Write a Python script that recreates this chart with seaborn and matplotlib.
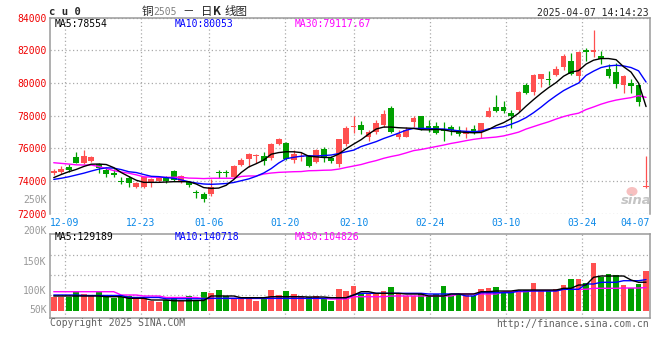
import numpy as np
import pandas as pd
import matplotlib
matplotlib.use("Agg")
import matplotlib.pyplot as plt
import seaborn as sns
from matplotlib.patches import Ellipse
from matplotlib.transforms import ScaledTranslation

# ─── Data (cu2505) ───────────────────────────────────────────────────────────
opens = [
    74470, 74550, 74870, 75480, 75120, 75240, 75020, 74670, 74470, 73980,
    74200, 73650, 73650, 73960, 74000, 74200, 74590, 73920, 73920, 73330,
    73190, 73210, 74570, 74530, 74230, 74980, 75340, 75510, 75530, 75390,
    76260, 76300, 75280, 75460, 75550, 75180, 75940, 75420, 75040, 76240,
    77290, 77420, 76710, 77010, 77420, 78440, 76710, 76710, 77620, 77970,
    77360, 77360, 77160, 77320, 77110, 76870, 77160, 77010, 77930, 78500,
    78510, 78130, 78340, 79860, 79450, 80270, 80270, 80470, 80980, 81330,
    80410, 82000, 81900, 81630, 80880, 80670, 79860, 79970, 79860, 73610]
highs = [
    74710, 74920, 75020, 75790, 75890, 75550, 75080, 74780, 74710, 74260,
    74310, 73960, 74260, 74170, 74260, 74310, 74670, 74370, 73960, 73450,
    73350, 74100, 74670, 74670, 74980, 75390, 75730, 75650, 75790, 76340,
    76660, 76400, 75890, 75790, 75590, 75940, 76060, 75530, 76600, 77360,
    77970, 77660, 77110, 77730, 78340, 78580, 77110, 77320, 77970, 77980,
    77730, 77600, 77600, 77420, 77360, 77320, 77420, 77560, 78540, 79250,
    78890, 78340, 79510, 80000, 80530, 80540, 80720, 81020, 81740, 81800,
    81940, 82140, 83260, 81940, 81130, 81220, 80470, 80210, 79910, 75530]
lows = [
    74350, 74450, 74570, 75080, 75040, 75180, 74510, 74260, 74260, 73820,
    73620, 73550, 73550, 73650, 73920, 73900, 74020, 73860, 73620, 72980,
    72740, 73080, 74170, 74230, 74170, 74920, 74870, 75120, 74980, 75280,
    76200, 75280, 75080, 75240, 74840, 75080, 75180, 75120, 74840, 76140,
    76910, 76870, 76460, 76870, 77320, 76950, 76550, 76670, 77320, 77110,
    77010, 76870, 76460, 76810, 76750, 76610, 76870, 76610, 77890, 78230,
    78130, 77220, 78230, 79310, 79250, 79760, 79900, 80410, 80780, 80470,
    80110, 81350, 81590, 81130, 80330, 79700, 79390, 79390, 78600, 73600]
closes = [
    74590, 74730, 74670, 75120, 75530, 75470, 74780, 74410, 74350, 73920,
    73860, 73860, 74230, 74100, 74200, 74000, 74060, 74310, 73740, 73250,
    72900, 73650, 74470, 74490, 74920, 75280, 75650, 75550, 75240, 76260,
    76600, 75340, 75650, 75500, 74920, 75890, 75390, 75220, 76560, 77260,
    77330, 77110, 77010, 77560, 78090, 77010, 76870, 77110, 77870, 77160,
    77220, 76910, 77070, 77110, 76870, 77070, 76950, 77520, 78290, 78290,
    78290, 77970, 79450, 79390, 80470, 80530, 80170, 80880, 81630, 80530,
    81890, 81860, 82000, 81490, 80410, 79910, 80410, 79820, 78840, 73620]

ma5 = [
    74210, 74400, 74570, 74710, 74890, 75030, 75040, 75010, 74820, 74520,
    74280, 74050, 73920, 73920, 73920, 73940, 73960, 73960, 73960, 73820,
    73600, 73550, 73570, 73740, 74090, 74520, 74860, 75060, 75280, 75640,
    75740, 75790, 75790, 75740, 75520, 75480, 75440, 75440, 75650, 75980,
    76260, 76530, 76870, 77180, 77300, 77300, 77260, 77240, 77220, 77140,
    77130, 77160, 77130, 77040, 77010, 76970, 76950, 76970, 77150, 77390,
    77570, 77820, 78150, 78580, 78980, 79360, 79710, 80020, 80410, 80660,
    80750, 81150, 81390, 81490, 81490, 81420, 80990, 80660, 79990, 78554]
ma10 = [
    74100, 74170, 74260, 74370, 74480, 74610, 74730, 74810, 74790, 74700,
    74570, 74520, 74400, 74290, 74270, 74210, 74170, 74070, 73960, 73880,
    73820, 73800, 73820, 73850, 73910, 74020, 74130, 74290, 74490, 74760,
    75100, 75370, 75450, 75520, 75550, 75530, 75560, 75590, 75680, 75790,
    75890, 76110, 76260, 76410, 76600, 76760, 76930, 77110, 77220, 77220,
    77210, 77190, 77180, 77130, 77070, 77040, 77020, 77050, 77190, 77250,
    77320, 77470, 77650, 77880, 78180, 78520, 78890, 79220, 79530, 79770,
    79990, 80460, 80720, 80940, 81040, 81080, 81040, 80940, 80740, 80053]
ma30 = [
    75120, 75080, 75040, 74990, 74980, 74980, 74890, 74760, 74640, 74550,
    74480, 74380, 74260, 74240, 74230, 74230, 74230, 74230, 74180, 74170,
    74150, 74170, 74170, 74170, 74170, 74280, 74310, 74310, 74430, 74490,
    74530, 74550, 74570, 74580, 74630, 74640, 74660, 74670, 74730, 74830,
    74920, 75010, 75140, 75250, 75390, 75500, 75590, 75720, 75860, 75930,
    76020, 76110, 76200, 76300, 76380, 76470, 76550, 76610, 76650, 76690,
    76760, 76870, 76990, 77180, 77330, 77480, 77620, 77790, 77940, 78060,
    78150, 78370, 78530, 78700, 78840, 78950, 79030, 79100, 79220, 79117.67]

volume = [
    63400, 63400, 63400, 89200, 75700, 66600, 89200, 71100, 58900, 63400,
    66600, 60700, 60700, 43900, 40800, 48500, 58900, 43900, 66600, 48500,
    86100, 81500, 93800, 66600, 56200, 63400, 60700, 43900, 53000, 93800,
    71100, 89200, 75700, 60700, 60700, 66600, 56200, 45000, 98300, 89200,
    111900, 78800, 75700, 81500, 89200, 107400, 75700, 66600, 66600, 75700,
    66600, 75700, 111900, 71100, 71100, 71100, 66600, 98300, 104200, 107400,
    81500, 89200, 93800, 93800, 126800, 93800, 89200, 98300, 116400, 143600,
    143600, 126800, 217400, 154000, 166300, 161700, 116400, 104200, 121000, 181200]
vol_ma5 = [
    66600, 66600, 66600, 66600, 66600, 66600, 66600, 63400, 63400, 63400,
    56200, 56200, 56200, 48500, 48500, 48500, 45000, 45000, 45000, 46200,
    46200, 66600, 66600, 66600, 66600, 58900, 58900, 58900, 58900, 63400,
    63400, 63400, 63400, 63400, 62100, 62100, 62100, 58900, 58900, 58900,
    71100, 86100, 86100, 78800, 78800, 78800, 78800, 75700, 75700, 75700,
    66600, 66600, 66600, 75700, 75700, 75700, 75700, 86100, 86100, 89200,
    89200, 89200, 93800, 93800, 93800, 93800, 93800, 93800, 101500, 101500,
    116400, 116400, 151300, 157200, 157200, 157200, 157200, 139100, 128700, 129189]
vol_ma10 = [
    71100, 71100, 71100, 71100, 68900, 68900, 68900, 68900, 68900, 68900,
    60000, 60000, 60000, 60000, 60000, 54000, 54000, 54000, 54000, 54000,
    54000, 56200, 56200, 56200, 56200, 56200, 56200, 56200, 56200, 56200,
    56200, 56200, 56200, 56200, 56200, 56200, 56200, 58900, 58900, 58900,
    71100, 78800, 78800, 78800, 78800, 78800, 78800, 78800, 78800, 78800,
    75700, 75700, 75700, 75700, 75700, 66600, 66600, 81500, 81500, 81500,
    81500, 81500, 89200, 89200, 89200, 89200, 89200, 89200, 96900, 96900,
    96900, 121000, 121000, 128700, 128700, 128700, 135900, 135900, 135900, 140718]
vol_ma30 = [
    86100, 86100, 86100, 86100, 86100, 86100, 86100, 86100, 86100, 71100,
    71100, 71100, 66600, 66600, 66600, 59800, 59800, 59800, 59800, 59800,
    55300, 55300, 55300, 55300, 55300, 55300, 55300, 55300, 55300, 55300,
    55300, 55300, 55300, 55300, 55300, 55300, 55300, 53000, 53000, 53000,
    63400, 63400, 63400, 63400, 63400, 66600, 66600, 66600, 66600, 66600,
    66600, 66600, 66600, 66600, 75700, 75700, 75700, 75700, 75700, 75700,
    86100, 86100, 86100, 86100, 91500, 91500, 91500, 91500, 96900, 96900,
    96900, 96900, 101500, 101500, 101500, 101500, 102800, 102800, 102800, 104826]

date_labels = ["12-09", "12-23", "01-06", "01-20", "02-10",
               "02-24", "03-10", "03-24", "04-07"]
date_idx = [2, 12, 21, 31, 40, 50, 60, 70, 79]
price_ticks = [72000, 74000, 76000, 78000, 80000, 82000, 84000]

# ─── Styles ──────────────────────────────────────────────────────────────────
RED, GREEN = "#ff5050", "#00a000"
GRID = "#aaaaaa"
FRAME = "#9a9a9a"
MONO = "DejaVu Sans Mono"
CJK = "Noto Sans CJK SC"
W, H = 660, 360

sns.set_style("white")
plt.rcParams["font.family"] = [MONO, CJK]


def fx(px):
    return px / W


def fy(py):
    return 1 - py / H


def put(px, py, s, **kw):
    kw.setdefault("size", 7.0)
    kw.setdefault("va", "center")
    fig.text(fx(px), fy(py), s, **kw)


fig = plt.figure(figsize=(6.6, 3.6), dpi=100)
fig.patch.set_facecolor("white")

ax = fig.add_axes([fx(50), fy(213.75), fx(600), (213.75 - 17.5) / H])
axv = fig.add_axes([fx(50), fy(318.3), fx(600), (318.3 - 234) / H])

idx = np.arange(len(closes))
o, c = np.array(opens), np.array(closes)
colors = np.where(c >= o, RED, GREEN)

# sina spaces its date grid at 7.6 px per day, the candles sit at 7.5 px
grid_pos = 1.5 + (np.array(date_idx) - 2) * 7.6 / 7.5

# ─── Price panel ─────────────────────────────────────────────────────────────
ax.vlines(idx, lows, highs, colors=colors, lw=0.9, zorder=2)
ax.bar(idx, np.maximum(np.abs(c - o), 60), bottom=np.minimum(o, c),
       width=0.76, color=colors, linewidth=0, zorder=2)

ma_df = pd.DataFrame({"i": idx, "MA5": ma5, "MA10": ma10, "MA30": ma30})
for name, col in [("MA30", "#ff00ff"), ("MA10", "#0000ff"), ("MA5", "black")]:
    sns.lineplot(data=ma_df, x="i", y=name, color=col, lw=1.0, ax=ax, zorder=3)

ax.set_xlim(-0.5, 79.5)
ax.set_ylim(72000, 84000)
ax.set_yticks(price_ticks)
ax.set_yticklabels([str(v) for v in price_ticks])
ax.set_xticks(grid_pos)
ax.set_xticklabels(date_labels)
ax.set_xlabel("")
ax.set_ylabel("")
ax.grid(True, ls=(0, (1, 2)), color=GRID, lw=0.9)
ax.tick_params(axis="y", length=0, pad=2.6, labelsize=7.0, labelcolor="#f00000")
ax.tick_params(axis="x", length=0, pad=3.0, labelsize=7.0, labelcolor="#0a88e8")
last = ax.get_xticklabels()[-1]
last.set_ha("right")
for side in ["top", "left", "right"]:
    ax.spines[side].set_color(FRAME)
    ax.spines[side].set_linewidth(1.1)
ax.spines["bottom"].set_visible(False)

# ─── Volume panel ────────────────────────────────────────────────────────────
axv.bar(idx, volume, width=0.76, color=colors, linewidth=0, zorder=2)
vol_df = pd.DataFrame({"i": idx, "v5": vol_ma5, "v10": vol_ma10, "v30": vol_ma30})
for name, col in [("v30", "#ff00ff"), ("v10", "#0000ff"), ("v5", "black")]:
    sns.lineplot(data=vol_df, x="i", y=name, color=col, lw=1.0, ax=axv, zorder=3)

axv.set_xlim(-0.5, 79.5)
axv.set_ylim(-34400, 347500)
axv.set_yticks([71100, 161700, 252300])
axv.set_xticks(grid_pos)
axv.set_xticklabels([])
axv.set_yticklabels([])
axv.set_xlabel("")
axv.set_ylabel("")
axv.grid(True, ls=(0, (1, 2)), color=GRID, lw=0.9)
axv.tick_params(length=0)
for side in axv.spines:
    axv.spines[side].set_color(FRAME)
    axv.spines[side].set_linewidth(1.1)

# ─── Texts ───────────────────────────────────────────────────────────────────
put(49, 12, "c u 0", size=7.6, weight="bold", family=MONO)
put(141.5, 11.5, "铜", size=8.3, family=[CJK])
put(153.5, 12, "2505", color="#808080")
for s, px in [("－", 182), ("日", 201), ("K", 213), ("线图", 224.5)]:
    put(px, 11.5, s, size=8.3, family=[CJK], weight="bold" if s == "K" else "normal")
put(649, 12.5, "2025-04-07 14:14:23", ha="right")

put(55, 24, "MA5:78554", color="black")
put(175, 24, "MA10:80053", color="#0000ff")
put(295, 24, "MA30:79117.67", color="#ff00ff")

put(46.5, 200, "250K", ha="right", color="#999999")
for lab, py in [("200K", 230.7), ("150K", 261.7), ("100K", 290.7), ("50K", 310)]:
    put(46.5, py, lab, ha="right", color="#999999")

put(55, 237.5, "MA5:129189", color="black")
put(175, 237.5, "MA10:140718", color="#0000ff")
put(295, 237.5, "MA30:104826", color="#ff00ff")

put(50, 323.5, "Copyright 2025 SINA.COM", color="#606060")
put(649, 324, "http://finance.sina.com.cn", ha="right", color="#606060")

# sina watermark
fig.patches.append(Ellipse((fx(632), fy(191.5)), fx(11), 9 / H,
                           transform=fig.transFigure, facecolor="#f7c0c0",
                           edgecolor="none", zorder=5))
put(636, 201, "sina", size=9.5, weight="bold", style="italic",
    color="#c4c4c4", ha="center", family="DejaVu Sans", zorder=6)

fig.savefig("out.png", dpi=100, facecolor="white")
